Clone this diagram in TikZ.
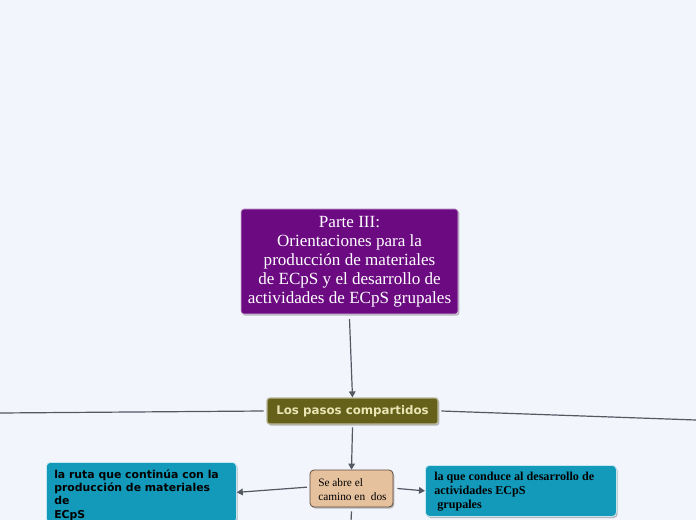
\documentclass[tikz,border=0pt]{standalone}
\usepackage{fontspec}
\setmainfont{Liberation Serif}
\newfontfamily\verd{DejaVu Sans}
\usetikzlibrary{arrows.meta,shadows}
\definecolor{bg}{HTML}{F3F5FD}
\definecolor{purp}{HTML}{6C0A82}
\definecolor{olive}{HTML}{66611A}
\definecolor{olivetxt}{HTML}{E9E5B5}
\definecolor{tan}{HTML}{E6C19E}
\definecolor{tanborder}{HTML}{5E4C3C}
\definecolor{blu}{HTML}{1399BA}
\definecolor{conn}{HTML}{545863}
\tikzset{
  conn/.style={draw=conn,line width=0.9pt},
  arr/.style={conn,-{Triangle[length=4.5pt,width=5pt]}},
  shad/.style={drop shadow={shadow xshift=1pt,shadow yshift=-1.2pt,opacity=0.25,fill=black}},
  mainbox/.style={shad,fill=purp,draw=white!70!purp,line width=0.6pt,rounded corners=2pt,minimum width=162.75pt,minimum height=78.75pt,text=white,align=center,font=\fontsize{12.8}{14.3}\selectfont},
  olivebox/.style={shad,fill=olive,draw=white!55!olive,line width=0.9pt,rounded corners=2pt,minimum width=128.25pt,minimum height=19.5pt,text=olivetxt,font=\verd\bfseries\fontsize{8.85}{11}\selectfont},
  tanbox/.style={shad,fill=tan,draw=tanborder,line width=0.6pt,rounded corners=3pt,minimum width=62.25pt,minimum height=27.75pt,inner sep=0pt},
  bluebox/.style={shad,fill=blu,draw=white!75!blu,line width=0.6pt,rounded corners=3pt,inner sep=0pt},
}
\begin{document}
\begin{tikzpicture}[x=0.75pt,y=-0.75pt]
\fill[bg] (0,0) rectangle (696,520);
\useasboundingbox (0,0) rectangle (696,520);
% main
\node[mainbox] (main) at (349.5,261.5) {Parte III:\\Orientaciones para la\\producción de materiales\\de ECpS y el desarrollo de\\actividades de ECpS grupales};
\node[olivebox] (pasos) at (352.5,411) {Los pasos compartidos};
\node[tanbox] (abre) at (351.5,488.5) {};
\node[anchor=west,align=left,inner sep=0pt,font=\fontsize{8.5}{10}\selectfont] (abretxt) at (318,489.5) {Se abre el\\camino en\ \ dos};
\node[bluebox,anchor=north west,minimum width=142.5pt,minimum height=45pt] (lblue) at (46,462) {};
\node[anchor=north west,align=left,inner sep=0pt,font=\verd\bfseries\fontsize{8.15}{9.9}\selectfont] (lbluetxt) at (54,469.5) {la ruta que continúa con la\\producción de materiales\\de\\ECpS};
\node[bluebox,anchor=north west,minimum width=143.25pt,minimum height=38.25pt] (rblue) at (425,465) {};
\node[anchor=west,align=left,inner sep=0pt,font=\bfseries\fontsize{9.1}{10.5}\selectfont] (rbluetxt) at (434,491.5) {la que conduce al desarrollo de\\actividades ECpS\\\ grupales};
\coordinate (lend) at (0,413);
\coordinate (rend) at (696,420);
\coordinate (dend) at (351,522);
\draw[arr] ([yshift=-3.5pt]main.south) -- (pasos.north);
\draw[arr] ([yshift=-2pt]pasos.south) -- (abre.north);
\draw[conn] ([xshift=-2pt]pasos.west) -- (lend);
\draw[conn] ([xshift=2pt]pasos.east) -- (rend);
\draw[arr] ([xshift=-2pt,yshift=1pt]abre.west) -- (lblue.east);
\draw[arr] ([xshift=3pt]abre.east) -- (rblue.west);
\draw[conn] ([yshift=-3pt]abre.south) -- (dend);
\end{tikzpicture}
\end{document}
